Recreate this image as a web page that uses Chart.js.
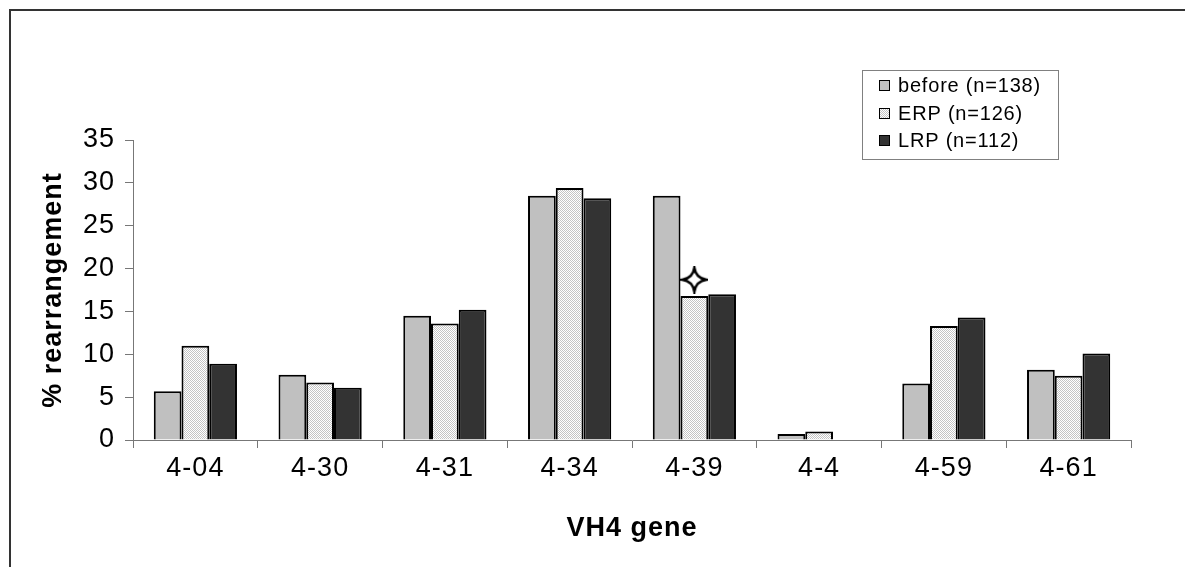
<!DOCTYPE html>
<html>
<head>
<meta charset="utf-8">
<script src="https://cdn.jsdelivr.net/npm/chart.js@4.4.1/dist/chart.umd.min.js"></script>
<style>
  html, body { margin: 0; padding: 0; background: #fff; }
  canvas { display: block; }
</style>
</head>
<body>
<canvas id="vh4Chart" width="1185" height="567"></canvas>
<script>
// data
const genes = ['4-04', '4-30', '4-31', '4-34', '4-39', '4-4', '4-59', '4-61'];
const before = [5.7, 7.6, 14.5, 28.5, 28.5, 0.7, 6.6, 8.2];
const erp = [11.0, 6.7, 13.6, 29.4, 16.8, 1.0, 13.3, 7.5];
const lrp = [8.9, 6.1, 15.2, 28.2, 17.0, 0, 14.3, 10.1];
const starMark = [null, null, null, null, 18.7, null, null, null];
const seriesLabels = ['before (n=138)', 'ERP (n=126)', 'LRP (n=112)'];
const yTicks = [0, 5, 10, 15, 20, 25, 30, 35];

const FONT = '"Liberation Sans", Arial, sans-serif';

// dotted light fill like the ERP bars
function makeDots() {
    const c = document.createElement('canvas');
    c.width = 2; c.height = 2;
    const g = c.getContext('2d');
    g.fillStyle = '#ffffff';
    g.fillRect(0, 0, 2, 2);
    g.fillStyle = '#c4c4c4';
    g.fillRect(0, 0, 1, 1);
    g.fillRect(1, 1, 1, 1);
    return g.createPattern(c, 'repeat');
}

// four pointed star marker
function makeStar(size) {
    const c = document.createElement('canvas');
    c.width = size; c.height = size;
    const g = c.getContext('2d');
    const m = size / 2, e = 2, k = 1.5;
    g.beginPath();
    g.moveTo(m, e);
    g.quadraticCurveTo(m + k, m - k, size - e, m);
    g.quadraticCurveTo(m + k, m + k, m, size - e);
    g.quadraticCurveTo(m - k, m + k, e, m);
    g.quadraticCurveTo(m - k, m - k, m, e);
    g.closePath();
    g.fillStyle = '#fff';
    g.fill();
    g.lineWidth = 2.5;
    g.strokeStyle = '#000';
    g.stroke();
    return c;
}

const ctx = document.getElementById('vh4Chart').getContext('2d');
const dots = makeDots();
const fills = ['#c0c0c0', dots, '#333333'];

const spacing = {
    id: 'spacing',
    beforeUpdate(chart) { chart.ctx.letterSpacing = '1px'; },
    beforeDraw(chart) {
        const c = chart.ctx;
        c.letterSpacing = '1px';
        // outer frame (top and left only show)
        c.save();
        c.strokeStyle = '#333';
        c.lineWidth = 2;
        c.beginPath();
        c.moveTo(10, 567);
        c.lineTo(10, 10);
        c.lineTo(1185, 10);
        c.stroke();
        c.restore();
    }
};

const boxLegend = {
    id: 'boxLegend',
    afterDraw(chart) {
        const c = chart.ctx;
        c.save();
        c.fillStyle = '#fff';
        c.fillRect(862, 70, 196, 89);
        c.strokeStyle = '#808080';
        c.lineWidth = 1;
        c.strokeRect(862.5, 70.5, 196, 89);
        c.font = '20px ' + FONT;
        c.letterSpacing = '0.8px';
        c.textBaseline = 'middle';
        const rows = [85, 113, 140];
        seriesLabels.forEach((lab, i) => {
            c.fillStyle = fills[i];
            c.fillRect(879, rows[i] - 5, 11, 11);
            c.strokeStyle = '#000';
            c.strokeRect(879.5, rows[i] - 4.5, 10, 10);
            c.fillStyle = '#000';
            c.fillText(lab, 898, rows[i] + 1);
        });
        c.restore();
    }
};

new Chart(ctx, {
    type: 'bar',
    data: {
        labels: genes,
        datasets: [
            { label: seriesLabels[0], data: before, backgroundColor: fills[0], borderColor: '#000', borderWidth: 2 },
            { label: seriesLabels[1], data: erp, backgroundColor: fills[1], borderColor: '#000', borderWidth: 2 },
            { label: seriesLabels[2], data: lrp, backgroundColor: fills[2], borderColor: '#000', borderWidth: 2 },
            {
                type: 'line', label: 'star', data: starMark, showLine: false, order: -1,
                pointStyle: makeStar(28), pointRadius: 14
            }
        ]
    },
    options: {
        responsive: false,
        animation: false,
        devicePixelRatio: 1,
        categoryPercentage: 0.667,
        barPercentage: 1,
        layout: { padding: { top: 140, right: 54, left: 0, bottom: 0 } },
        plugins: {
            legend: { display: false },
            tooltip: { enabled: false }
        },
        scales: {
            x: {
                grid: { offset: true, drawOnChartArea: false, drawTicks: true, tickLength: 8, color: '#777' },
                border: { color: '#777', width: 1 },
                ticks: { color: '#000', font: { family: FONT, size: 27 }, padding: 4, maxRotation: 0 },
                title: { display: true, text: 'VH4 gene', color: '#000', font: { family: FONT, size: 27, weight: 'bold' }, padding: { top: 22, bottom: 22 } },
                afterFit(scale) { scale.height = 127; }
            },
            y: {
                min: 0,
                max: 35,
                afterBuildTicks(scale) { scale.ticks = yTicks.map(v => ({ value: v })); },
                grid: { drawOnChartArea: false, drawTicks: true, tickLength: 8, color: '#777' },
                border: { color: '#777', width: 1 },
                ticks: { color: '#000', font: { family: FONT, size: 27 }, padding: 10 },
                title: { display: true, text: '% rearrangement', color: '#000', font: { family: FONT, size: 27, weight: 'bold' }, padding: { top: 37, bottom: 0 } },
                afterFit(scale) { scale.width = 133; }
            }
        }
    },
    plugins: [spacing, boxLegend]
});
</script>
</body>
</html>
